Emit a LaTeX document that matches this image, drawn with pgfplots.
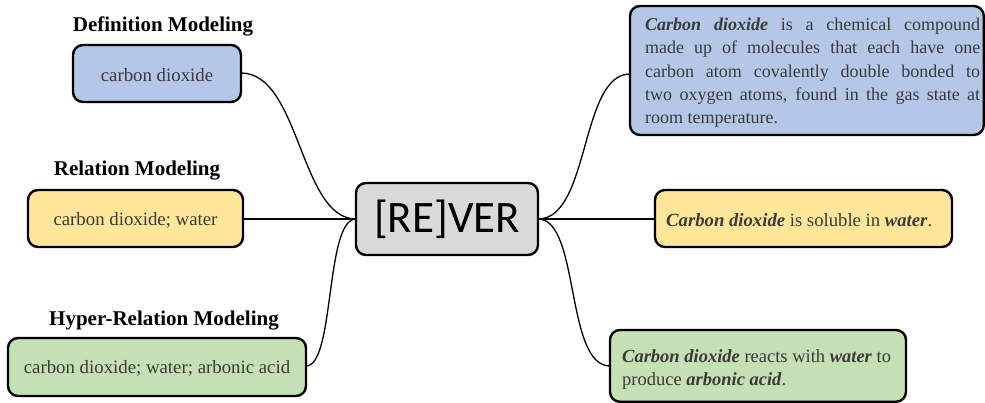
\documentclass[border=0pt]{standalone}
\usepackage{pgfplots}
\pgfplotsset{compat=1.18}
\usepackage{fontspec}
\setmainfont{Liberation Serif}
\newfontfamily\calib{Carlito}
\definecolor{bblue}{HTML}{B4C7E7}
\definecolor{byel}{HTML}{FFE699}
\definecolor{bgreen}{HTML}{C5E0B4}
\definecolor{bgray}{HTML}{D9D9D9}
\definecolor{txt}{HTML}{3A3A3A}
\begin{document}
\begin{tikzpicture}
\begin{axis}[hide axis, scale only axis, width=985bp, height=403bp,
  xmin=0, xmax=985, ymin=0, ymax=403, y dir=reverse, clip=false]
\addplot[draw=none] coordinates {(0,0) (985,403)};
% connectors
\draw[line width=1.3bp] (241,73) .. controls (300,73) and (300,219) .. (356,219);
\draw[line width=1.3bp] (243,219) -- (356,219);
\draw[line width=1.3bp] (306,366) .. controls (335,366) and (325,219) .. (356,219);
\draw[line width=1.3bp] (538,219) .. controls (590,219) and (580,74) .. (630,74);
\draw[line width=1.3bp] (538,219) -- (655,219);
\draw[line width=1.3bp] (538,219) .. controls (580,219) and (565,366) .. (610,366);
% boxes
\tikzset{bx/.style={line width=2.4bp, rounded corners=10bp}}
\draw[bx, fill=bblue] (73,45) rectangle (241,102);
\draw[bx, fill=byel] (28,190) rectangle (243,247);
\draw[bx, fill=bgreen] (8,338) rectangle (306,396);
\draw[bx, fill=bgray] (356,183) rectangle (538,255);
\draw[bx, fill=bblue] (630,6) rectangle (983.8,135);
\draw[bx, fill=byel] (655,190) rectangle (952,247);
\draw[bx, fill=bgreen] (610,330) rectangle (906,401.8);
% titles
\node[font=\fontsize{21bp}{24bp}\selectfont\bfseries] at (163,26) {Definition Modeling};
\node[font=\fontsize{21bp}{24bp}\selectfont\bfseries] at (137,171) {Relation Modeling};
\node[font=\fontsize{21bp}{24bp}\selectfont\bfseries] at (164,321) {Hyper-Relation Modeling};
% left box texts
\node[text=txt, font=\fontsize{18.8bp}{22bp}\selectfont] at (157,75) {carbon dioxide};
\node[text=txt, font=\fontsize{18.8bp}{22bp}\selectfont] at (135.5,220) {carbon dioxide; water};
\node[text=txt, font=\fontsize{18.8bp}{22bp}\selectfont] at (157,368) {carbon dioxide; water; arbonic acid};
% center
\node[font=\fontsize{45bp}{50bp}\selectfont\calib] at (447,219) {[RE]VER};
% right texts
\node[text=txt, anchor=north west, inner sep=0pt, font=\fontsize{18bp}{23.3bp}\selectfont, align=left] at (645,18) {%
\makebox[335bp][s]{\textbf{\textit{Carbon}} \textbf{\textit{dioxide}} is a chemical compound}\\
\makebox[335bp][s]{made up of molecules that each have one}\\
\makebox[335bp][s]{carbon atom covalently double bonded to}\\
\makebox[335bp][s]{two oxygen atoms, found in the gas state at}\\
room temperature.};
\node[text=txt, anchor=west, inner sep=0pt, font=\fontsize{18.7bp}{22bp}\selectfont] at (666,220) {\textbf{\textit{Carbon dioxide}} is soluble in \textbf{\textit{water}}.};
\node[text=txt, anchor=north west, inner sep=0pt, font=\fontsize{18.5bp}{23.5bp}\selectfont, align=left] at (622,349) {%
\textbf{\textit{Carbon dioxide}} reacts with \textbf{\textit{water}} to\\
produce \textbf{\textit{arbonic acid}}.};
\end{axis}
\pgfresetboundingbox
\path (current axis.south west) rectangle (current axis.north east);
\end{tikzpicture}
\end{document}
